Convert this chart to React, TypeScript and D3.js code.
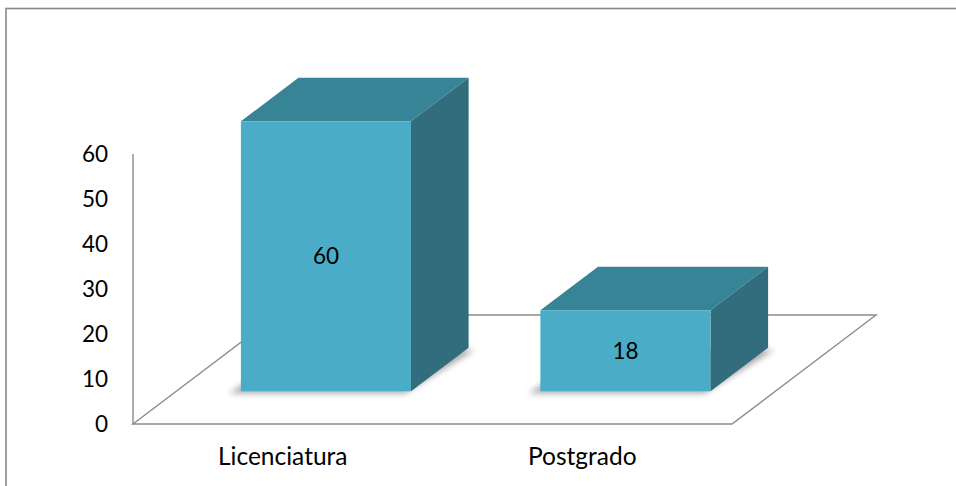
import React from "react";
import * as d3 from "d3";

// Data
const categories: string[] = ["Licenciatura", "Postgrado"];
const values: number[] = [60, 18];
const tickValues: number[] = [0, 10, 20, 30, 40, 50, 60];

const W = 956;
const H = 486;

// Floor geometry (oblique projection)
const floorLeft = 133;
const floorRight = 732;
const floorFrontY = 424;
const depth: [number, number] = [144, -109];
const barFrontDepth = 0.3;
const barBackDepth = 0.7;

const FRONT = "#4aacc6";
const TOP = "#378497";
const SIDE = "#316d7c";
const GRID = "#8c8c8c";
const FONT = "Lato, 'Open Sans', sans-serif";

export default function App() {
  const x = d3
    .scaleBand<string>()
    .domain(categories)
    .range([floorLeft, floorRight])
    .paddingInner(0.432)
    .paddingOuter(0.216);

  const yAxis = d3.scaleLinear().domain([0, 60]).range([floorFrontY, floorFrontY - 270]);
  const h = (v: number) => yAxis(0) - yAxis(v);

  const fdx = depth[0] * barFrontDepth;
  const fdy = depth[1] * barFrontDepth;
  const bdx = depth[0] * barBackDepth;
  const bdy = depth[1] * barBackDepth;

  const pts = (p: [number, number][]) => p.map((q) => q.join(",")).join(" ");

  const floor: [number, number][] = [
    [floorLeft, floorFrontY],
    [floorRight, floorFrontY],
    [floorRight + depth[0], floorFrontY + depth[1]],
    [floorLeft + depth[0], floorFrontY + depth[1]],
  ];

  return (
    <svg width={W} height={H} style={{ position: "absolute", left: 0, top: 0, background: "#fff" }}>
      <defs>
        <filter id="barShadow" x="-20%" y="-50%" width="140%" height="200%">
          <feGaussianBlur stdDeviation="3" />
        </filter>
      </defs>
      <rect x={6} y={8.5} width={W} height={H} fill="#fff" stroke="#888" strokeWidth={1.6} />

      {/* floor */}
      <polygon points={pts(floor)} fill="none" stroke={GRID} strokeWidth={1.4} />
      {/* value axis */}
      <line x1={floorLeft} x2={floorLeft} y1={yAxis(0)} y2={yAxis(60)} stroke={GRID} strokeWidth={1.4} />

      {tickValues.map((t) => (
        <text
          key={t}
          x={108}
          y={yAxis(t)}
          dy="0.1em"
          textAnchor="end"
          fontFamily={FONT}
          fontSize={22.5}
          fill="#000"
          dominantBaseline="middle"
        >
          {t}
        </text>
      ))}

      {categories.map((c, i) => {
        const v = values[i];
        const x0 = (x(c) as number) + fdx;
        const x1 = x0 + x.bandwidth();
        const yb = floorFrontY + fdy;
        const yt = yb - h(v);
        const ddx = bdx - fdx;
        const ddy = bdy - fdy;
        const front: [number, number][] = [
          [x0, yt],
          [x1, yt],
          [x1, yb],
          [x0, yb],
        ];
        const top: [number, number][] = [
          [x0, yt],
          [x0 + ddx, yt + ddy],
          [x1 + ddx, yt + ddy],
          [x1, yt],
        ];
        const side: [number, number][] = [
          [x1, yt],
          [x1 + ddx, yt + ddy],
          [x1 + ddx, yb + ddy],
          [x1, yb],
        ];
        const shadow: [number, number][] = [
          [x0 - 12, yb + 2],
          [x1 - 6, yb + 2],
          [x1 + ddx + 6, yb + ddy + 2],
          [x0 + ddx, yb + ddy + 2],
        ];
        return (
          <g key={c}>
            <polygon points={pts(shadow)} fill="#000" opacity={0.35} filter="url(#barShadow)" />
            <polygon points={pts(top)} fill={TOP} />
            <polygon points={pts(side)} fill={SIDE} />
            <polygon points={pts(front)} fill={FRONT} />
            <text
              x={(x0 + x1) / 2}
              y={(yt + yb) / 2}
              dy="0.1em"
              textAnchor="middle"
              dominantBaseline="middle"
              fontFamily={FONT}
              fontSize={22.5}
              fill="#000"
            >
              {v}
            </text>
            <text
              x={(x(c) as number) + x.bandwidth() / 2}
              y={459}
              textAnchor="middle"
              dominantBaseline="middle"
              fontFamily={FONT}
              fontSize={24.5}
              fill="#000"
            >
              {c}
            </text>
          </g>
        );
      })}
    </svg>
  );
}
